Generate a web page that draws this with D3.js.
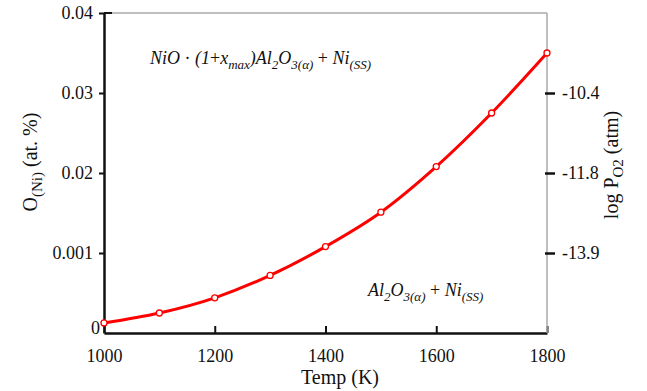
<!DOCTYPE html>
<html><head><meta charset="utf-8">
<script src="https://cdn.jsdelivr.net/npm/d3@7"></script>
<style>
body{margin:0;background:#fff;}
</style></head>
<body><svg id="c" width="647" height="391" font-family="Liberation Serif"></svg>
<script>
const temps = [1000,1100,1200,1300,1400,1500,1600,1700,1800];
const oxygen = [0.00126,0.0025,0.0044,0.0072,0.0108,0.0151,0.0208,0.0275,0.0350];
const xTicks = [1000,1200,1400,1600,1800];
const yTicks = [0,0.01,0.02,0.03,0.04];
const yTickLabels = ["0","0.001","0.02","0.03","0.04"];
const rightTicks = [0.03,0.02,0.01];
const rightTickLabels = ["-10.4","-11.8","-13.9"];

const svg = d3.select("#c");
const x = d3.scaleLinear().domain([1000,1800]).range([104,547]);
const y = d3.scaleLinear().domain([0,0.04]).range([333,13]);
const SERIF = "Liberation Serif";

svg.append("line").attr("x1",104).attr("x2",547).attr("y1",13).attr("y2",13).attr("stroke","#aaa").attr("stroke-width",1.5);
svg.append("line").attr("x1",104).attr("x2",112).attr("y1",13).attr("y2",13).attr("stroke","#111").attr("stroke-width",2);

const gx = svg.append("g").attr("transform","translate(0,333)")
  .call(d3.axisBottom(x).tickValues(xTicks).tickFormat(d3.format("d")).tickSizeInner(-7).tickSizeOuter(0).tickPadding(16));
gx.attr("font-family",SERIF);
gx.select(".domain").attr("stroke","#111").attr("stroke-width",2.5);
gx.selectAll(".tick line").attr("stroke","#111").attr("stroke-width",2);
gx.selectAll(".tick text").attr("font-size",18).attr("font-family",SERIF).attr("fill","#111");

const gy = svg.append("g").attr("transform","translate(104,0)")
  .call(d3.axisLeft(y).tickValues(yTicks).tickFormat((d,i)=>yTickLabels[i]).tickSizeInner(5).tickSizeOuter(0).tickPadding(6));
gy.attr("font-family",SERIF);
gy.select(".domain").attr("stroke","#111").attr("stroke-width",2.5);
gy.selectAll(".tick line").attr("stroke","#111").attr("stroke-width",2);
gy.selectAll(".tick text").attr("font-size",18).attr("font-family",SERIF).attr("fill","#111");
gy.selectAll(".tick").filter(d=>d===0).select("line").remove();
gy.selectAll(".tick").filter(d=>d===0).select("text").attr("x",-4).attr("dy","0.05em");

const gr = svg.append("g").attr("transform","translate(547,0)")
  .call(d3.axisRight(y).tickValues(rightTicks).tickFormat((d,i)=>rightTickLabels[i]).tickSizeInner(8).tickSizeOuter(0).tickPadding(7));
gr.attr("font-family",SERIF);
gr.select(".domain").attr("stroke","#aaa").attr("stroke-width",1.5).attr("d","M0,13V333");
gr.selectAll(".tick line").attr("stroke","#111").attr("stroke-width",2.5).attr("x1",-2);
gr.selectAll(".tick text").attr("font-size",18).attr("font-family",SERIF).attr("fill","#111");

const line = d3.line().x((d,i)=>x(temps[i])).y(d=>y(d)).curve(d3.curveMonotoneX);
svg.append("path").datum(oxygen).attr("d",line).attr("fill","none").attr("stroke","#f00").attr("stroke-width",3);
svg.selectAll("circle.pt").data(oxygen).join("circle").attr("class","pt")
  .attr("cx",(d,i)=>x(temps[i])).attr("cy",d=>y(d)).attr("r",3)
  .attr("fill","#fff").attr("stroke","#f00").attr("stroke-width",1.3);

svg.append("text").attr("x",340).attr("y",384).attr("text-anchor","middle").attr("font-size",20).attr("fill","#111").text("Temp (K)");

const yl = svg.append("text").attr("transform","translate(37,162) rotate(-90)").attr("text-anchor","middle").attr("font-size",20).attr("fill","#111");
yl.append("tspan").text("O");
yl.append("tspan").attr("font-size",15).attr("dy",5).text("(Ni)");
yl.append("tspan").attr("dy",-5).text(" (at. %)");

const rl = svg.append("text").attr("transform","translate(618,165) rotate(-90)").attr("text-anchor","middle").attr("font-size",20).attr("fill","#111");
rl.append("tspan").text("log P");
rl.append("tspan").attr("font-size",15).attr("dy",5).text("O2");
rl.append("tspan").attr("dy",-5).text(" (atm)");

function ann(xp, yp, parts){
  const t = svg.append("text").attr("x",xp).attr("y",yp).attr("font-size",18).attr("font-style","italic").attr("fill","#111");
  let cur = 0;
  parts.forEach(p=>{
    const sub = p[1]===1;
    const s = t.append("tspan").text(p[0]);
    if(sub){ s.attr("font-size",13); }
    const target = sub?5:0;
    if(target!==cur){ s.attr("dy",target-cur); cur=target; }
    if(p[2]) s.attr("font-style","normal");
  });
}
ann(150,64,[["NiO",0],[" · ",0,1],["(1",0],["+",0,1],["x",0],["max",1],[")Al",0],["2",1],["O",0],["3(α)",1],[" + ",0,1],["Ni",0],["(SS)",1]]);
ann(368,296,[["Al",0],["2",1],["O",0],["3(α)",1],[" + ",0,1],["Ni",0],["(SS)",1]]);
</script></body></html>
